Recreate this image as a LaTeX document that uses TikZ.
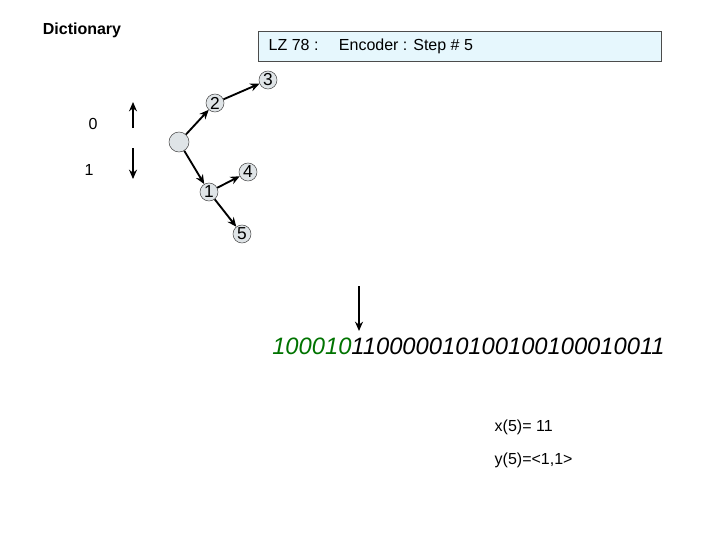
\documentclass[tikz,border=0pt]{standalone}
\usepackage{fontspec}
\setmainfont{Liberation Sans}
\usetikzlibrary{arrows.meta}
\begin{document}
\begin{tikzpicture}[x=0.75pt,y=-0.75pt,
  tn/.style={circle,draw=black!70,fill=cyan!15!gray!25,minimum size=13.5pt,inner sep=0pt,font=\fontsize{13}{13}\selectfont},
  ar/.style={-{Stealth[length=7pt,width=6pt]},line width=1.4pt},
  lbl/.style={font=\fontsize{12}{14}\selectfont}]
\useasboundingbox (0,0) rectangle (720,540);
\node[font=\bfseries\fontsize{12}{14}\selectfont] (dict) at (82,30) {Dictionary};
\node[draw=black!70,fill=cyan!10,minimum width=302pt,minimum height=22.5pt,anchor=north west,inner sep=0pt] (box) at (258,31) {};
\node[lbl,anchor=west] (lz) at (264,46) {LZ 78 :\quad\ Encoder : Step \# 5};
\node[tn,minimum size=15pt] (r) at (179,142) {};
\node[tn] (n2) at (215,103) {2};
\node[tn] (n3) at (268,80) {3};
\node[tn] (n1) at (209,192) {1};
\node[tn] (n4) at (248,172) {4};
\node[tn] (n5) at (242,234) {5};
\draw[ar] (r) -- (n2);
\draw[ar] (n2) -- (n3);
\draw[ar] (r) -- (n1);
\draw[ar] (n1) -- (n4);
\draw[ar] (n1) -- (n5);
\coordinate (u0) at (133,128); \coordinate (u1) at (133,102);
\coordinate (d0) at (133,148); \coordinate (d1) at (133,179);
\draw[ar] (u0) -- (u1);
\draw[ar] (d0) -- (d1);
\node[lbl] (z) at (93,124) {0};
\node[lbl] (o) at (89,170) {1};
\node[font=\itshape\fontsize{17.8}{20}\selectfont,anchor=west,inner sep=0pt] (bits) at (272,346) {\textcolor{green!45!black}{100010}110000010100100100010011};
\coordinate (p0) at (359,286); \coordinate (p1) at (359,331);
\draw[ar] (p0) -- (p1);
\node[lbl,anchor=west] (x5) at (490,427) {x(5)= 11};
\node[lbl,anchor=west] (y5) at (490,460) {y(5)=<1,1>};
\end{tikzpicture}
\end{document}
